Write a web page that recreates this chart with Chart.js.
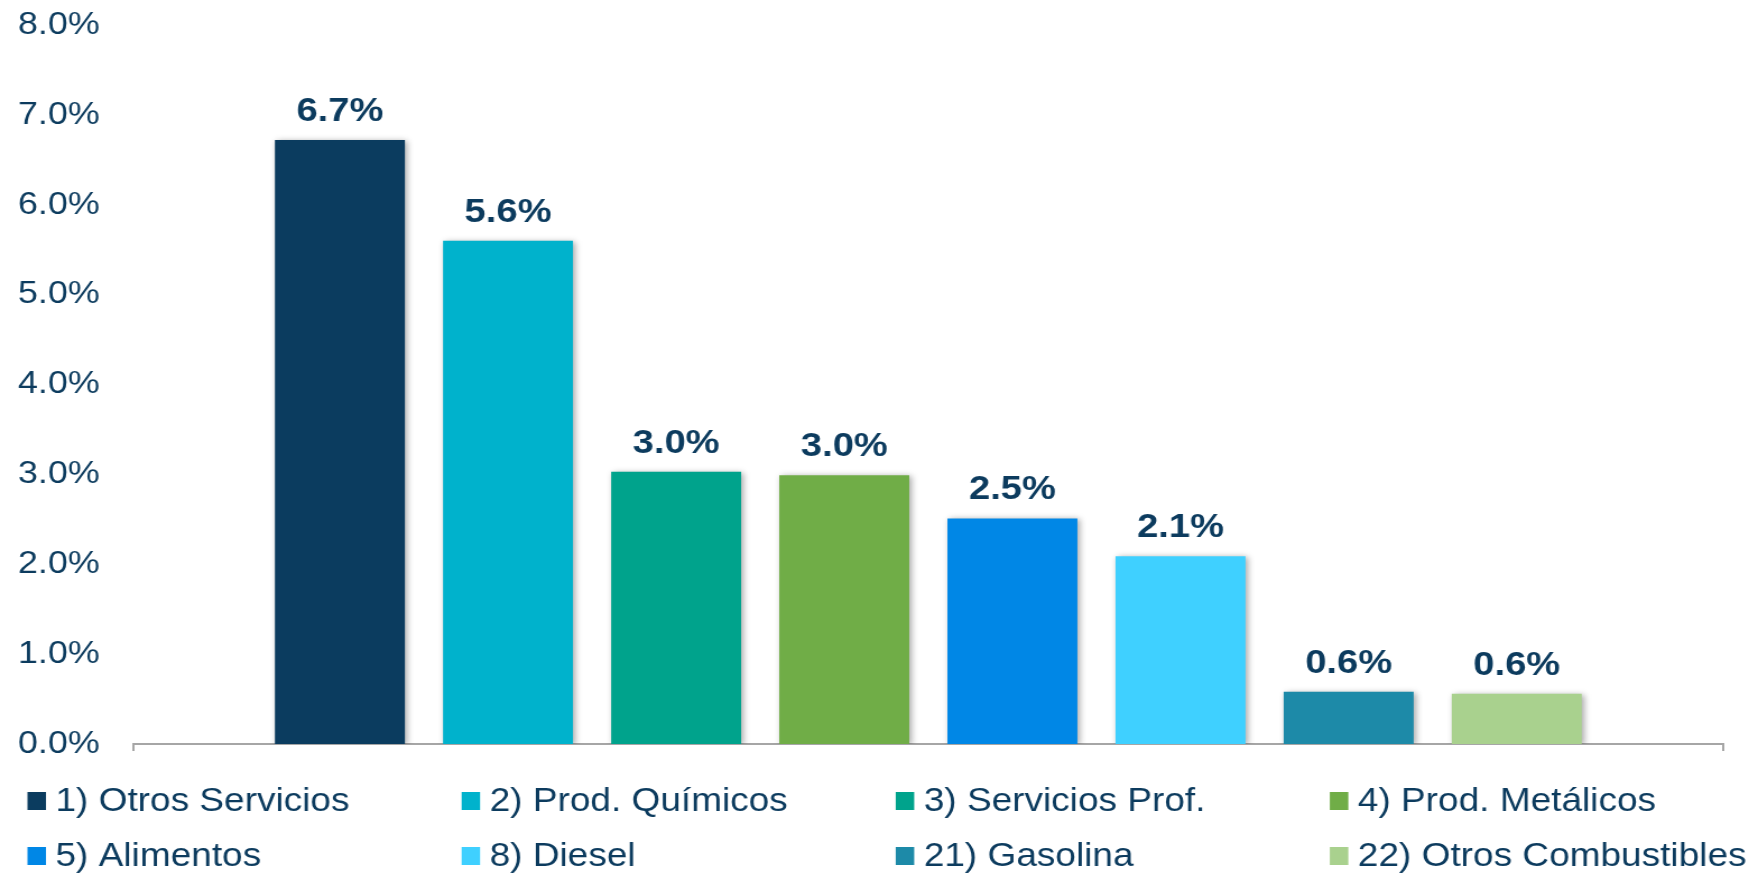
<!DOCTYPE html>
<html>
<head>
<meta charset="utf-8">
<script src="https://cdn.jsdelivr.net/npm/chart.js@4"></script>
<style>
  html, body { margin: 0; padding: 0; background: #fff; overflow: hidden; }
  /* drawn at 1568 wide and stretched to 1758, like the source picture */
  #wrap { width: 1568px; height: 875px; transform: scale(1.12117, 1); transform-origin: 0 0; }
  #c { display: block; }
</style>
</head>
<body>
<div id="wrap"><canvas id="c" width="1568" height="875"></canvas></div>
<script>
const categories = ['1) Otros Servicios', '2) Prod. Químicos', '3) Servicios Prof.', '4) Prod. Metálicos',
                    '5) Alimentos', '8) Diesel', '21) Gasolina', '22) Otros Combustibles'];
const values = [6.72, 5.60, 3.03, 2.99, 2.51, 2.09, 0.58, 0.56];
const colors = ['#0b3c5f', '#00b2cc', '#00a38c', '#70ad47', '#0087e6', '#3fd0ff', '#1d8aa8', '#a9d18e'];
const yMin = 0, yMax = 8, yStep = 1;

const navy = '#0c3b5e';
const fontFamily = '"Liberation Sans", Arial, sans-serif';

const barShadow = {
    id: 'barShadow',
    beforeDatasetsDraw(chart) {
        const ctx = chart.ctx;
        ctx.save();
        ctx.shadowColor = 'rgba(0,0,0,0.35)';
        ctx.shadowBlur = 6;
        ctx.shadowOffsetX = 2;
        ctx.shadowOffsetY = 1;
    },
    afterDatasetsDraw(chart) {
        chart.ctx.restore();
    }
};

const valueLabels = {
    id: 'valueLabels',
    afterDatasetsDraw(chart) {
        const ctx = chart.ctx;
        ctx.save();
        ctx.font = 'bold 34px ' + fontFamily;
        ctx.fillStyle = navy;
        ctx.textAlign = 'center';
        ctx.textBaseline = 'alphabetic';
        chart.data.datasets.forEach((ds, i) => {
            const bar = chart.getDatasetMeta(i).data[0];
            ctx.fillText(ds.data[0].toFixed(1) + '%', bar.x, bar.y - 19);
        });
        ctx.restore();
    }
};

const gridLegend = {
    id: 'gridLegend',
    afterDraw(chart) {
        const ctx = chart.ctx;
        const colX = 24.5, colW = 387.2, rowY = [801, 856];
        ctx.save();
        ctx.font = '33px ' + fontFamily;
        ctx.textBaseline = 'middle';
        ctx.textAlign = 'left';
        chart.data.datasets.forEach((ds, i) => {
            const x = colX + (i % 4) * colW;
            const y = rowY[Math.floor(i / 4)];
            ctx.fillStyle = ds.backgroundColor;
            ctx.fillRect(x, y - 9, 16.5, 18);
            ctx.fillStyle = navy;
            ctx.fillText(ds.label, x + 25, y + 1);
        });
        ctx.restore();
    }
};

new Chart(document.getElementById('c'), {
    type: 'bar',
    data: {
        labels: [''],
        datasets: categories.map((name, i) => ({
            label: name,
            data: [values[i]],
            backgroundColor: colors[i],
            borderWidth: 0
        }))
    },
    options: {
        responsive: false,
        animation: false,
        devicePixelRatio: 1,
        categoryPercentage: 0.846,
        barPercentage: 0.773,
        layout: { padding: { left: 0, right: 31, top: 25, bottom: 124 } },
        plugins: { legend: { display: false }, tooltip: { enabled: false } },
        scales: {
            x: {
                offset: true,
                grid: { display: true, drawOnChartArea: false, drawTicks: true, tickLength: 7, color: '#a6a6a6', lineWidth: 2, offset: true },
                border: { display: true, color: '#a6a6a6', width: 2 },
                ticks: { display: false },
                afterFit: s => { s.height = 7; }
            },
            y: {
                min: yMin,
                max: yMax,
                grid: { display: false, drawTicks: false },
                border: { display: false },
                ticks: {
                    stepSize: yStep,
                    padding: 30,
                    color: navy,
                    font: { family: fontFamily, size: 32 },
                    callback: v => v.toFixed(1) + '%'
                },
                afterFit: s => { s.width = 119; s.paddingTop = 0; s.paddingBottom = 0; }
            }
        }
    },
    plugins: [barShadow, valueLabels, gridLegend]
});
</script>
</body>
</html>
